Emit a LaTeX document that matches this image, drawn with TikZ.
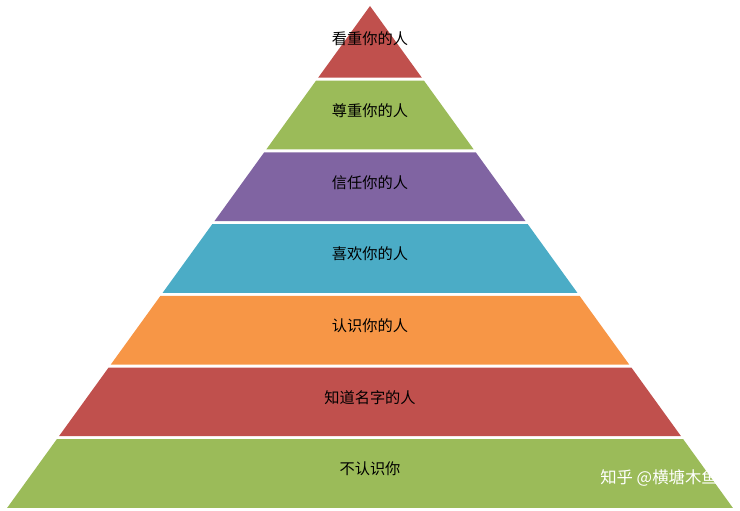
\documentclass[tikz,border=0pt]{standalone}
\usepackage{fontspec}
\setmainfont{Noto Sans CJK SC}
\definecolor{lvred}{HTML}{C0504D}
\definecolor{lvgreen}{HTML}{9BBB59}
\definecolor{lvpurple}{HTML}{8064A2}
\definecolor{lvblue}{HTML}{4BACC6}
\definecolor{lvorange}{HTML}{F79646}
\tikzset{
  label/.style={font=\fontsize{13}{13}\selectfont, text=black},
}
\begin{document}
\begin{tikzpicture}[x=0.03cm,y=-0.03cm]
    \useasboundingbox (0,0) rectangle (740,510);
    % 逐层绘制金字塔
    \foreach \i/\col/\txt in {0/lvred/看重你的人,1/lvgreen/尊重你的人,2/lvpurple/信任你的人,
        3/lvblue/喜欢你的人,4/lvorange/认识你的人,5/lvred/知道名字的人,6/lvgreen/不认识你} {
        \pgfmathsetmacro{\top}{6+\i*71.7+(\i>0)*3}
        \pgfmathsetmacro{\bot}{6+(\i+1)*71.7}
        \pgfmathsetmacro{\wt}{(\top-6)*0.723}
        \pgfmathsetmacro{\wb}{(\bot-6)*0.723}
        \fill[\col] (370-\wt,\top) -- (370+\wt,\top) -- (370+\wb,\bot) -- (370-\wb,\bot) -- cycle;
        \node[label] (layer\i) at (370,{6+\i*71.7+33}) {\txt};
    }
    % 水印
    \node[font=\fontsize{14}{14}\selectfont, text=white, anchor=east] (mark) at (722,478) {知乎 @横塘木鱼};
\end{tikzpicture}
\end{document}
